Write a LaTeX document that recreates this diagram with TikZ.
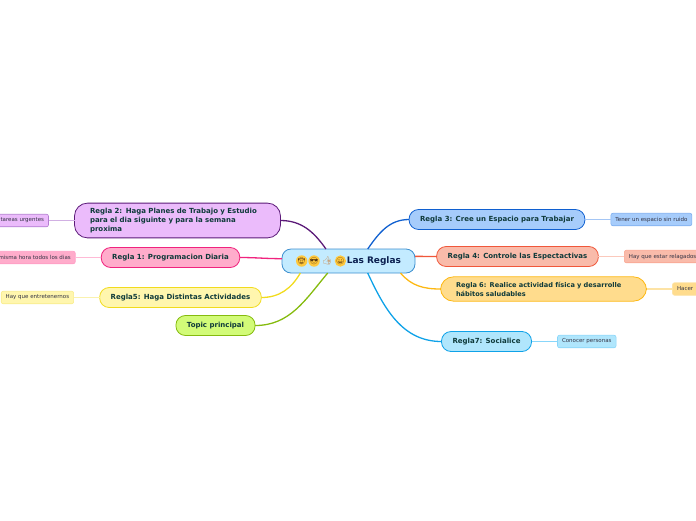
\documentclass[tikz,border=0pt]{standalone}
\usepackage{fontspec}
\setmainfont{DejaVu Sans}
\newfontfamily\emojifont{Noto Emoji}
\usetikzlibrary{positioning}
\definecolor{inkmain}{HTML}{0F3A3A}
\definecolor{inkroot}{HTML}{0B2050}
\definecolor{inkleaf}{HTML}{333344}
\definecolor{rootfill}{HTML}{C3EBFF}
\definecolor{rootline}{HTML}{3D8FCF}
\definecolor{facefill}{HTML}{FFC83D}
\definecolor{faceink}{HTML}{5A3A10}
\definecolor{thumbink}{HTML}{C98B50}
\definecolor{planfill}{HTML}{EBBBFB}
\definecolor{planline}{HTML}{5B1A78}
\definecolor{planleaf}{HTML}{B27CD0}
\definecolor{progfill}{HTML}{FFACCB}
\definecolor{progline}{HTML}{F0237E}
\definecolor{progleaf}{HTML}{FF9CC4}
\definecolor{actifill}{HTML}{FFF6AE}
\definecolor{actiline}{HTML}{F1DB1D}
\definecolor{actileaf}{HTML}{F8EC8B}
\definecolor{topifill}{HTML}{D2FB78}
\definecolor{topiline}{HTML}{85BB0E}
\definecolor{espafill}{HTML}{A6CCFB}
\definecolor{espaline}{HTML}{1060D0}
\definecolor{espaleaf}{HTML}{7DAEF0}
\definecolor{contfill}{HTML}{F9BBAA}
\definecolor{contline}{HTML}{F0573A}
\definecolor{contleaf}{HTML}{F9A590}
\definecolor{fisifill}{HTML}{FFDC8D}
\definecolor{fisiline}{HTML}{FDB813}
\definecolor{fisileaf}{HTML}{FDE3A5}
\definecolor{socifill}{HTML}{B0E6FC}
\definecolor{sociline}{HTML}{0FA2E8}
\definecolor{socileaf}{HTML}{88D6FA}
\tikzset{rootbox/.style={draw=rootline,fill=rootfill,line width=0.8pt,rounded corners=9pt,outer sep=0pt,font=\fontsize{9}{11}\selectfont\bfseries,text=inkroot,inner xsep=14pt,text width=105pt,align=right,minimum height=24pt},facebox/.style={circle,fill=facefill,text=faceink,inner sep=0pt,minimum size=11pt,outer sep=0pt,font=\emojifont\fontsize{7}{8}\selectfont},thumbbox/.style={facebox,fill=none,text=thumbink,font=\emojifont\fontsize{8}{9}\selectfont},mainbox/.style={line width=0.8pt,rounded corners=9.5pt,outer sep=0pt,font=\fontsize{7}{9}\selectfont\bfseries,text=inkmain,inner xsep=11pt,minimum height=20pt},widebox/.style={mainbox,align=left,text width=175pt,inner xsep=15.5pt,inner ysep=5pt,rounded corners=13pt},leafbox/.style={line width=0.6pt,rounded corners=2pt,outer sep=0pt,font=\fontsize{5.5}{6.5}\selectfont,text=inkleaf,inner xsep=4.5pt,minimum height=12.5pt},link/.style={line width=1.3pt},leaflink/.style={line width=1.1pt}}
\begin{document}
\begin{tikzpicture}[x=1pt,y=-1pt,node distance=26pt]
\clip (0,0) rectangle (696,520);
\node[rootbox] (root) at (348.5,261) {Las Reglas};
\node[facebox,right=14pt of root.west] (vaquero) {🤠};
\node[facebox,right=1pt of vaquero] (gafas) {😎};
\node[thumbbox,right=1pt of gafas] (pulgar) {👍};
\node[facebox,right=1pt of pulgar] (risa) {😀};
\node[widebox,draw=planline,fill=planfill] (plan) at (177.5,220.5) {Regla 2: Haga Planes de Trabajo y Estudio\\para el dia siguinte y para la semana\\proxima};
\node[mainbox,draw=progline,fill=progfill] (prog) at (170.5,257.5) {Regla 1: Programacion Diaria};
\node[mainbox,draw=actiline,fill=actifill] (acti) at (180.5,297.5) {Regla5: Haga Distintas Actividades};
\node[mainbox,draw=topiline,fill=topifill] (topi) at (215.5,325.5) {Topic principal};
\node[mainbox,draw=espaline,fill=espafill] (espa) at (497,219.5) {Regla 3: Cree un Espacio para Trabajar};
\node[mainbox,draw=contline,fill=contfill] (cont) at (517.5,256.5) {Regla 4: Controle las Espectactivas};
\node[widebox,draw=fisiline,fill=fisifill,font=\fontsize{6.6}{9}\selectfont\bfseries] (fisi) at (543.5,289) {Regla 6: Realice actividad física y desarrolle\\hábitos saludables};
\node[mainbox,draw=sociline,fill=socifill] (soci) at (486.5,341.5) {Regla7: Socialice};
% hojas
\node[leafbox,draw=planleaf,fill=planfill,left=of plan] (planhoja) {tareas urgentes};
\node[leafbox,draw=progleaf,fill=progfill,left=of prog] (proghoja) {misma hora todos los dias};
\node[leafbox,draw=actileaf,fill=actifill,left=of acti] (actihoja) {Hay que entretenernos};
\node[leafbox,draw=espaleaf,fill=espafill,right=of espa] (espahoja) {Tener un espacio sin ruido};
\node[leafbox,draw=contleaf,fill=contfill,right=of cont] (conthoja) {Hay que estar relagados};
\node[leafbox,draw=fisileaf,fill=fisifill,right=of fisi,text width=40pt] (fisihoja) {Hacer};
\node[leafbox,draw=socileaf,fill=socifill,right=of soci] (socihoja) {Conocer personas};
\draw[link,planline] (plan.east) to[out=0,in=125] (root.152);
\draw[link,progline] (prog.east) to[out=0,in=180] (root.178);
\draw[link,actiline] (acti.east) to[out=0,in=-120] (root.-166);
\draw[link,topiline] (topi.east) to[out=0,in=-130] (root.-150);
\draw[link,espaline] (espa.west) to[out=180,in=55] (root.32);
\draw[link,contline] (cont.west) to[out=180,in=0] (root.4);
\draw[link,fisiline] (fisi.west) to[out=180,in=-50] (root.-13);
\draw[link,sociline] (soci.west) to[out=180,in=-65] (root.-32);
\draw[leaflink,planleaf!60] (plan)--(planhoja);
\draw[leaflink,progleaf!70] (prog)--(proghoja);
\draw[leaflink,actileaf!70] (acti)--(actihoja);
\draw[leaflink,espaleaf!70] (espa)--(espahoja);
\draw[leaflink,contleaf!60] (cont)--(conthoja);
\draw[leaflink,fisileaf] (fisi)--(fisihoja);
\draw[leaflink,socileaf] (soci)--(socihoja);
\end{tikzpicture}
\end{document}
